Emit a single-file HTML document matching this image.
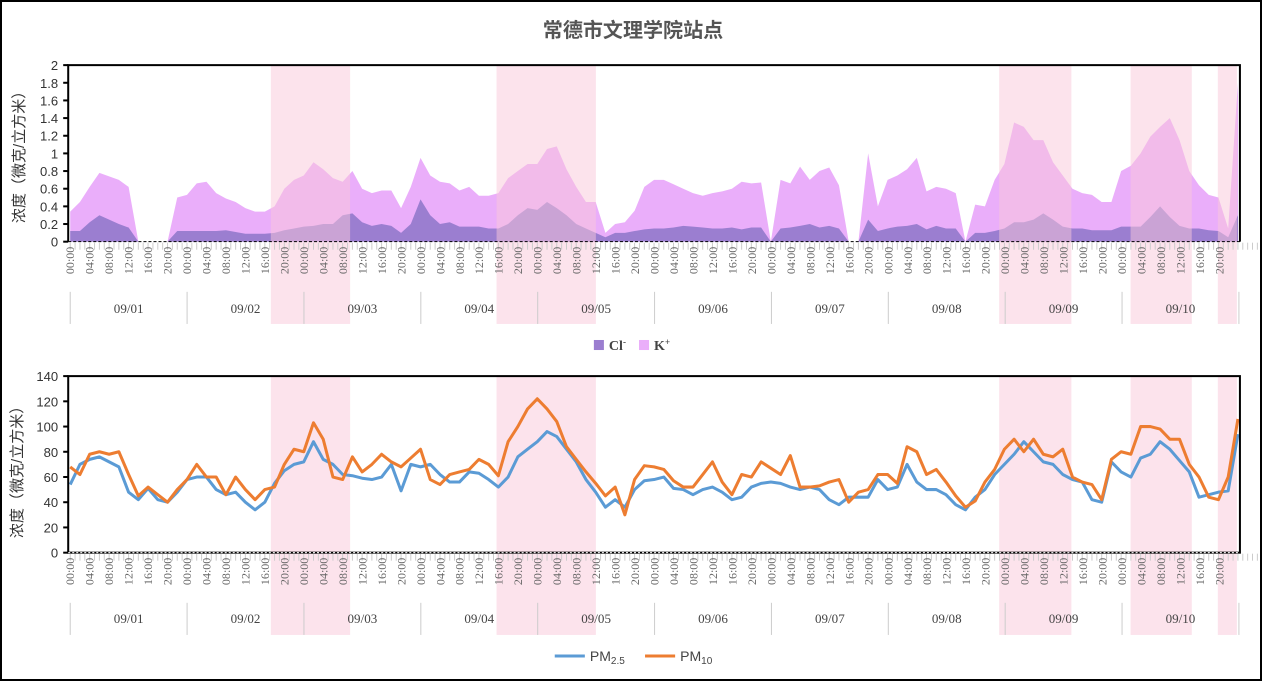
<!DOCTYPE html>
<html><head><meta charset="utf-8">
<style>
html,body{margin:0;padding:0;background:#fff;}
#wrap{width:1262px;height:681px;position:relative;box-sizing:border-box;border:2px solid #000;overflow:hidden;}
svg text{font-family:"Liberation Sans","Noto Sans CJK SC",sans-serif;}
svg text.serif{font-family:"Liberation Serif","Noto Serif CJK SC",serif;}
</style></head>
<body>
<div id="wrap">
<svg id="svg" width="1262" height="681" viewBox="2 2 1258 677" style="position:absolute;left:0;top:0">
<text x="631" y="36" text-anchor="middle" font-size="20" font-weight="bold" fill="#555">常德市文理学院站点</text>
</svg>
</div>
<script>
const days = ["09/01","09/02","09/03","09/04","09/05","09/06","09/07","09/08","09/09","09/10"];
const hourLabels = ["00:00","04:00","08:00","12:00","16:00","20:00"];
const topTicks = ["0","0.2","0.4","0.6","0.8","1","1.2","1.4","1.6","1.8","2"];
const botTicks = ["0","20","40","60","80","100","120","140"];
const kPlus = [.34,.45,.62,.78,.74,.7,.62,0,0,0,0,.5,.53,.66,.68,.55,.49,.45,.38,.34,.34,.4,.6,.7,.75,.9,.82,.72,.68,.8,.6,.55,.58,.58,.38,.62,.95,.75,.68,.66,.58,.62,.52,.52,.55,.72,.8,.88,.88,1.05,1.08,.82,.62,.45,.45,.1,.2,.22,.35,.62,.7,.7,.65,.6,.55,.52,.55,.57,.6,.68,.66,.67,0,.7,.66,.85,.7,.8,.84,.64,0,0,1.0,.4,.7,.75,.82,.95,.57,.62,.6,.55,0,.42,.4,.7,.88,1.35,1.3,1.15,1.15,.9,.75,.6,.55,.53,.45,.45,.8,.86,1.0,1.19,1.3,1.4,1.15,.8,.64,.53,.5,.15,1.8];
const clMinus = [.12,.12,.22,.3,.25,.2,.16,0,0,0,0,.12,.12,.12,.12,.12,.13,.11,.09,.09,.09,.1,.13,.15,.17,.18,.2,.2,.3,.32,.22,.18,.2,.18,.1,.2,.48,.3,.2,.22,.17,.17,.17,.15,.15,.2,.3,.38,.36,.45,.38,.3,.2,.15,.1,.05,.1,.1,.12,.14,.15,.15,.16,.18,.17,.16,.15,.15,.16,.14,.16,.16,0,.15,.16,.18,.2,.16,.18,.15,0,0,.25,.12,.15,.17,.18,.2,.14,.18,.15,.15,0,.1,.1,.12,.15,.22,.22,.25,.32,.25,.17,.15,.15,.13,.13,.13,.17,.17,.17,.28,.4,.28,.18,.15,.15,.13,.12,.05,.3];
const pm10 = [68,62,78,80,78,80,62,45,52,46,40,50,58,70,60,60,46,60,50,42,50,52,70,82,80,103,90,60,58,76,64,70,78,72,68,75,82,58,54,62,64,66,74,70,61,88,100,114,122,114,104,84,74,64,55,45,52,30,58,69,68,66,57,52,52,62,72,56,46,62,60,72,67,62,77,52,52,53,56,58,40,48,50,62,62,55,84,80,62,66,56,45,36,41,56,66,82,90,80,90,78,76,82,60,56,54,42,74,80,78,100,100,98,90,90,70,60,44,42,60,106];
const pm25 = [54,70,74,76,72,68,48,42,51,42,40,48,58,60,60,50,46,48,40,34,40,55,65,70,72,88,74,70,62,61,59,58,60,70,49,70,68,70,62,56,56,64,63,58,52,60,76,82,88,96,92,82,72,58,48,36,42,36,50,57,58,60,51,50,46,50,52,48,42,44,52,55,56,55,52,50,52,50,42,38,44,44,44,58,50,52,70,56,50,50,46,38,34,44,50,62,70,78,88,80,72,70,62,58,56,42,40,72,64,60,75,78,88,82,73,64,44,46,48,49,94];
const bandStarts = [270,495,996,1127,1214];
const bandEnds = [349,594,1068,1188,1233];

const NS="http://www.w3.org/2000/svg";
const svg=document.getElementById('svg');
function mk(tag,attrs,parent){const e=document.createElementNS(NS,tag);for(const k in attrs)e.setAttribute(k,attrs[k]);(parent||svg).appendChild(e);return e;}
const X0=70, XSTEP=9.7, DAYW=116.5, L=68, R=1236;
const xIdx=i=>X0+i*XSTEP;
const topY=v=>240-v*88;
const botY=v=>550-v*(176/140);

function yAxisTitle(cx,cy){
  const t=mk('text',{x:cx,y:cy,'text-anchor':'middle','font-size':15,fill:'#333',transform:`rotate(-90 ${cx} ${cy})`});
  
  
  t.textContent='浓度（微克/立方米）';
}
function xAxis(yAxis,labTop,sepTop,sepBot,dayY,prefix){
  for(let h=0;h<=244;h++){
    const x=X0+h*4.85;
    const tk=mk('line',{x1:x,x2:x,y1:yAxis+1,y2:yAxis+8,stroke:'#ccc','stroke-width':1});
    
    
  }
  for(let d=0;d<days.length;d++){
    for(let j=0;j<hourLabels.length;j++){
      const x=X0+d*DAYW+j*4*4.85+4;
      const t=mk('text',{x:x,y:labTop,'text-anchor':'end','font-size':12,fill:'#666',class:'serif',transform:`rotate(-90 ${x} ${labTop})`});
      
      
      t.textContent=hourLabels[j];
    }
    const dl=mk('text',{x:X0+d*DAYW+DAYW/2,y:dayY,'text-anchor':'middle','font-size':13,fill:'#444',class:'serif'});
    
    
    dl.textContent=days[d];
  }
  for(let d=0;d<=days.length;d++){
    const x=X0+d*DAYW;
    const s=mk('line',{x1:x,x2:x,y1:sepTop,y2:sepBot,stroke:'#ccc','stroke-width':1});
    
    
  }
}
function yTicks(ticks,yf,prefix,step){
  ticks.forEach((lab,k)=>{
    const v=k*step, y=yf(v);
    const t=mk('text',{x:58,y:y+5,'text-anchor':'end','font-size':13,fill:'#333'});
    
    
    t.textContent=lab;
    const l=mk('line',{x1:63,x2:68,y1:y,y2:y,stroke:'#000','stroke-width':2});
    
    
  });
}
function bands(y1,y2,prefix){
  for(let b=0;b<bandStarts.length;b++){
    const r=mk('rect',{x:bandStarts[b],y:y1,width:bandEnds[b]-bandStarts[b],height:y2-y1,fill:'rgba(250,200,218,0.5)'});
    
    
  }
}
function areaPath(arr){
  let d=`M${xIdx(0)},${topY(0)}`;
  arr.forEach((v,i)=>{d+=` L${xIdx(i).toFixed(1)},${topY(v).toFixed(1)}`;});
  d+=` L${xIdx(arr.length-1)},${topY(0)} Z`;return d;
}
function linePath(arr){
  return arr.map((v,i)=>(i?'L':'M')+xIdx(i).toFixed(1)+','+botY(v).toFixed(1)).join(' ');
}

// ---- top chart ----
yAxisTitle(24,152);
yTicks(topTicks,topY,'top',0.2);
const ka=mk('path',{d:areaPath(kPlus),fill:'#EAAEFA'});


const ca=mk('path',{d:areaPath(clMinus),fill:'#9B7ED0'});


bands(64,322,'top');
const tb=mk('path',{d:`M${L},240 V64 H${R} V240`,fill:'none',stroke:'#000','stroke-width':2});


const tx=mk('line',{x1:L,x2:R,y1:240,y2:240,stroke:'#000','stroke-width':1,'stroke-dasharray':'3,2'});


xAxis(240,245,290,322,311,'top');

// top legend
const lg1=mk('g',{});


const s1=mk('rect',{x:592,y:338,width:10,height:10,fill:'#9B7ED0'},lg1);


const t1=mk('text',{x:607,y:348,'font-size':14,'font-weight':'bold',fill:'#444',style:'font-family:"Liberation Serif",serif'},lg1);


t1.innerHTML='Cl<tspan dy="-5" font-size="9">-</tspan>';
const s2=mk('rect',{x:637,y:338,width:10,height:10,fill:'#EAAEFA'},lg1);


const t2=mk('text',{x:652,y:348,'font-size':14,'font-weight':'bold',fill:'#444',style:'font-family:"Liberation Serif",serif'},lg1);


t2.innerHTML='K<tspan dy="-5" font-size="9">+</tspan>';

// ---- bottom chart ----
yAxisTitle(22,466);
yTicks(botTicks,botY,'bottom',20);
bands(374,632,'bottom');
const l25=mk('path',{d:linePath(pm25),fill:'none',stroke:'#5B9BD5','stroke-width':3,'stroke-linejoin':'round'});


const l10=mk('path',{d:linePath(pm10),fill:'none',stroke:'#ED7D31','stroke-width':3,'stroke-linejoin':'round'});


const bb=mk('rect',{x:L,y:374,width:R-L,height:176,fill:'none',stroke:'#000','stroke-width':2});


const bx=mk('line',{x1:L,x2:R,y1:550,y2:550,stroke:'#fff','stroke-width':1,'stroke-dasharray':'2,2'});


xAxis(550,555,600,632,620,'bottom');

// bottom legend
const lg2=mk('g',{});


const b1=mk('line',{x1:553,x2:583,y1:653,y2:653,stroke:'#5B9BD5','stroke-width':3},lg2);


const bt1=mk('text',{x:588,y:658,'font-size':14,fill:'#444'},lg2);


bt1.innerHTML='PM<tspan font-size="10" dy="3">2.5</tspan>';
const b2=mk('line',{x1:643,x2:673,y1:653,y2:653,stroke:'#ED7D31','stroke-width':3},lg2);


const bt2=mk('text',{x:678,y:658,'font-size':14,fill:'#444'},lg2);


bt2.innerHTML='PM<tspan font-size="10" dy="3">10</tspan>';
</script>
</body></html>
